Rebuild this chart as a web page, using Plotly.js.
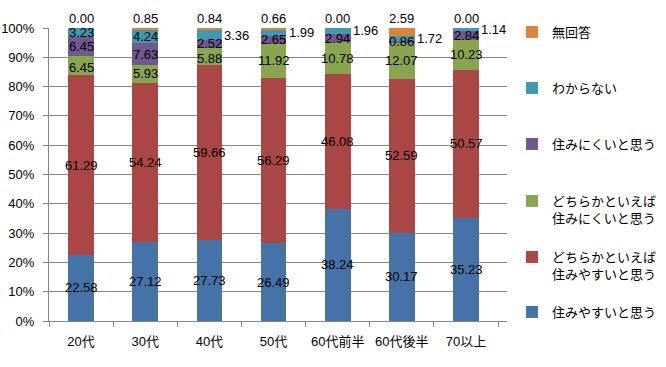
<!DOCTYPE html>
<html>
<head>
<meta charset="utf-8">
<script src="https://cdn.plot.ly/plotly-3.0.1.min.js"></script>
<style>
html,body{margin:0;padding:0;background:#fff;}
#chart{width:666px;height:367px;}
</style>
</head>
<body>
<div id="chart"></div>
<script>
// ---- data ----
const categories = ['20代','30代','40代','50代','60代前半','60代後半','70以上'];
const seriesNames = ['住みやすいと思う','どちらかといえば<br>住みやすいと思う','どちらかといえば<br>住みにくいと思う','住みにくいと思う','わからない','無回答'];
const sumiyasui      = [22.58, 27.12, 27.73, 26.49, 38.24, 30.17, 35.23];
const yayaSumiyasui  = [61.29, 54.24, 59.66, 56.29, 46.08, 52.59, 50.57];
const yayaSuminikui  = [6.45, 5.93, 5.88, 11.92, 10.78, 12.07, 10.23];
const suminikui      = [6.45, 7.63, 2.52, 2.65, 2.94, 0.86, 2.84];
const wakaranai      = [3.23, 4.24, 3.36, 1.99, 1.96, 1.72, 1.14];
const mukaitou       = [0.00, 0.85, 0.84, 0.66, 0.00, 2.59, 0.00];
const yTickVals   = [0, 10, 20, 30, 40, 50, 60, 70, 80, 90, 100];
const yTickLabels = ['0%','10%','20%','30%','40%','50%','60%','70%','80%','90%','100%'];

// ---- styling / label placement ----
const series = [sumiyasui, yayaSumiyasui, yayaSuminikui, suminikui, wakaranai, mukaitou];
const colors = ['#4572A7', '#AA4643', '#89A54E', '#71588F', '#4198AF', '#DB843D'];
// c = centred in segment, d = centred but nudged down, u = centred but nudged up,
// r = right of bar, t = above the bar
const placement = [
  ['c','c','c','c','c','c','c'],
  ['c','c','c','c','c','c','c'],
  ['d','c','d','c','c','c','c'],
  ['c','c','u','c','c','c','c'],
  ['c','c','r','r','r','r','r'],
  ['t','t','t','t','t','t','t']
];
const legendCentersPx = [312, 265.5, 209.5, 144, 88, 32];
const H = 367, W = 666;
const numFont = {family: 'Liberation Sans, Arial, sans-serif', size: 13, color: '#000'};
const jpFont = {family: 'Liberation Sans, Noto Sans CJK JP, sans-serif', size: 13, color: '#000'};

const traces = series.map((vals, i) => ({
  type: 'bar',
  name: seriesNames[i],
  x: categories,
  y: vals,
  marker: {color: colors[i], line: {width: 0}},
  legend: i === 0 ? 'legend' : 'legend' + (i + 1),
  showlegend: true,
  hoverinfo: 'none'
}));

const annotations = [];
const cum = categories.map(() => 0);
series.forEach((vals, i) => {
  vals.forEach((v, j) => {
    const base = cum[j];
    cum[j] += v;
    const p = placement[i][j];
    const a = {
      x: categories[j], xref: 'x', yref: 'y',
      text: v.toFixed(2), showarrow: false, font: numFont, borderpad: 0
    };
    if (p === 'c' || p === 'd' || p === 'u') {
      a.y = base + v / 2; a.xanchor = 'center'; a.yanchor = 'middle';
      if (p === 'd') a.yshift = -2;
      if (p === 'u') a.yshift = 1;
    } else if (p === 'r') {
      a.y = base + v / 2; a.xanchor = 'left'; a.yanchor = 'middle'; a.xshift = 14;
    } else {
      a.y = 100; a.xanchor = 'center'; a.yanchor = 'bottom'; a.yshift = 1;
    }
    annotations.push(a);
  });
});

const layout = {
  width: W, height: H,
  margin: {l: 49, r: 159, t: 28, b: 46},
  paper_bgcolor: '#fff', plot_bgcolor: '#fff',
  barmode: 'stack',
  bargap: 0.6,
  font: jpFont,
  showlegend: true,
  xaxis: {
    type: 'category',
    showline: true, linecolor: '#868686', linewidth: 1,
    ticks: 'outside', tickson: 'boundaries', ticklen: 5, tickcolor: '#868686',
    tickfont: jpFont, ticklabelstandoff: 8,
    showgrid: false, zeroline: false, fixedrange: true
  },
  yaxis: {
    range: [0, 100], tickmode: 'array', tickvals: yTickVals, ticktext: yTickLabels,
    showline: true, linecolor: '#868686', linewidth: 1,
    ticks: 'outside', ticklen: 5, tickcolor: '#868686',
    showgrid: true, gridcolor: '#868686', gridwidth: 1,
    zeroline: false, tickfont: numFont, ticklabelstandoff: 6, fixedrange: true
  },
  annotations: annotations,
  hovermode: false
};

legendCentersPx.forEach((py, i) => {
  const key = i === 0 ? 'legend' : 'legend' + (i + 1);
  layout[key] = {
    visible: true,
    x: 512 / W, xref: 'container', xanchor: 'left',
    y: 1 - py / H, yref: 'container', yanchor: 'middle',
    valign: 'top', font: jpFont, bgcolor: 'rgba(0,0,0,0)', borderwidth: 0,
    itemclick: false, itemdoubleclick: false
  };
});

Plotly.newPlot('chart', traces, layout, {displayModeBar: false, staticPlot: true});
</script>
</body>
</html>
